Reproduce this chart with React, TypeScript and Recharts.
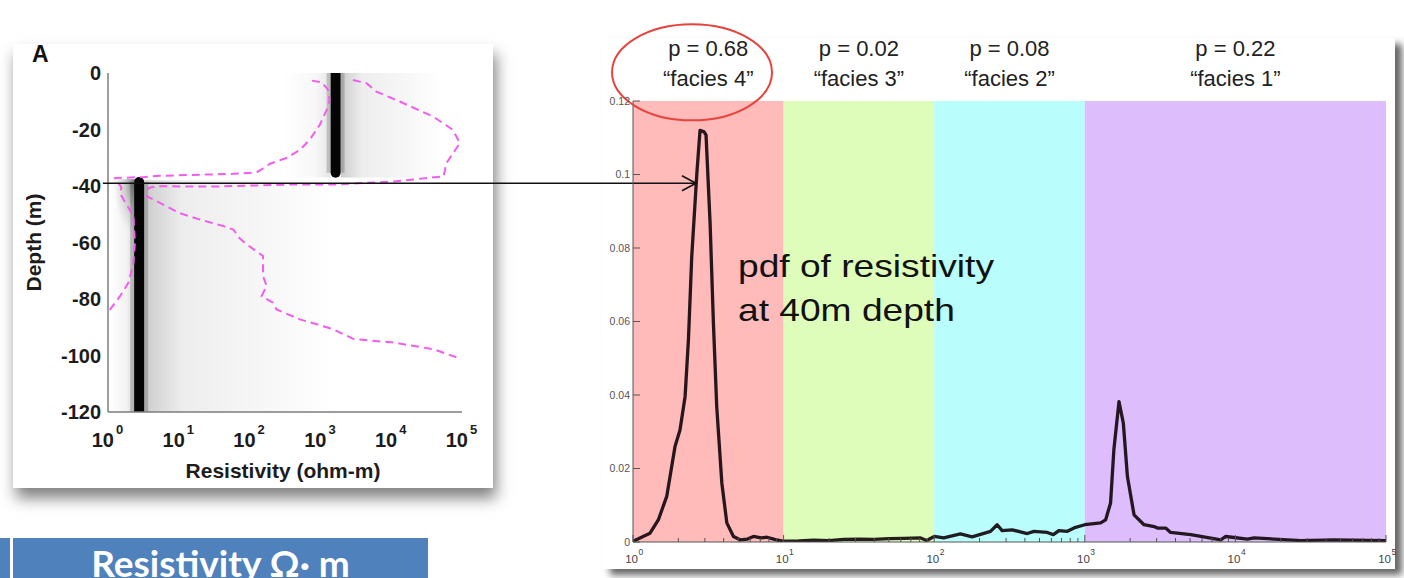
import React from "react";
import {
  ComposedChart,
  Line,
  XAxis,
  YAxis,
  ReferenceArea,
  ReferenceLine,
  ReferenceDot,
} from "recharts";

const FONT = "'Liberation Sans', Arial, Helvetica, sans-serif";

// ---------------- Panel A (depth profile), x = log10(resistivity), y = depth (m) ----------------
const depthTicks = [0, -20, -40, -60, -80, -100, -120];
const decadeTicks = [0, 1, 2, 3, 4, 5];

// lower (P10) envelope, dashed magenta
const lowerEnvelope = [
  { x: 2.88, y: -2.7 }, { x: 3.02, y: -3.3 }, { x: 3.11, y: -6 }, { x: 3.13, y: -9.5 },
  { x: 3.09, y: -13 }, { x: 2.99, y: -18.4 }, { x: 2.85, y: -23.6 }, { x: 2.71, y: -27.2 },
  { x: 2.52, y: -30.1 }, { x: 2.29, y: -32.1 }, { x: 2.1, y: -35.2 }, { x: 1.77, y: -35.7 },
  { x: 0.73, y: -36.4 }, { x: 0.52, y: -36.8 }, { x: 0.1, y: -37.2 }, { x: 0.19, y: -40.5 },
  { x: 0.17, y: -42.5 }, { x: 0.22, y: -44.8 }, { x: 0.36, y: -50.7 }, { x: 0.38, y: -60.1 },
  { x: 0.36, y: -67.2 }, { x: 0.29, y: -74.2 }, { x: 0.17, y: -79 }, { x: 0.03, y: -83.7 },
  { x: 0.0, y: -84.5 },
];

// upper (P90) envelope, dashed magenta
const upperEnvelope = [
  { x: 3.46, y: -2.5 }, { x: 3.65, y: -3.6 }, { x: 3.79, y: -6.6 }, { x: 4.12, y: -10.1 },
  { x: 4.59, y: -15.4 }, { x: 4.87, y: -20.1 }, { x: 4.97, y: -24.8 }, { x: 4.78, y: -31.9 },
  { x: 4.74, y: -36.6 }, { x: 4.03, y: -38.4 }, { x: 3.18, y: -39.5 }, { x: 2.57, y: -39.5 },
  { x: 1.5, y: -40.2 }, { x: 0.68, y: -40.1 }, { x: 0.57, y: -40.7 }, { x: 0.55, y: -43.7 },
  { x: 0.69, y: -45.4 }, { x: 1.0, y: -49.5 }, { x: 1.3, y: -51.9 }, { x: 1.63, y: -54.2 },
  { x: 1.77, y: -55.4 }, { x: 1.86, y: -58.5 }, { x: 1.95, y: -60.5 }, { x: 2.19, y: -64.8 },
  { x: 2.19, y: -71.9 }, { x: 2.24, y: -75.4 }, { x: 2.17, y: -79 }, { x: 2.33, y: -81.3 },
  { x: 2.38, y: -83.7 }, { x: 2.71, y: -87.2 }, { x: 3.18, y: -90.7 }, { x: 3.47, y: -94.2 },
  { x: 4.03, y: -95.4 }, { x: 4.6, y: -97.8 }, { x: 4.93, y: -100.7 },
];

// most probable resistivity (dark density ridge) in each layer
const ridgeUpper = [{ x: 3.215, y: 0 }, { x: 3.215, y: -35.3 }];
const ridgeLower = [{ x: 0.44, y: -38.6 }, { x: 0.44, y: -120 }];

// grey probability haze around the ridges
const hazeZones = [
  { x1: 3.29, x2: 4.75, y1: -37, y2: 0, g: "hazeR" },
  { x1: 2.45, x2: 3.14, y1: -37, y2: 0, g: "hazeLsoft" },
  { x1: 0.51, x2: 3.2, y1: -120, y2: -38, g: "hazeR" },
  { x1: 0.02, x2: 0.37, y1: -120, y2: -38, g: "hazeL" },
  { x1: 0.08, x2: 0.38, y1: -56, y2: -37.5, g: "hazeBlob" },
];

// ---------------- Right panel: pdf of resistivity at 40 m depth ----------------
const pdfTicks = [0, 0.02, 0.04, 0.06, 0.08, 0.1, 0.12];
const minorMultipliers = [2, 3, 4, 5, 6, 7, 8, 9];
const logTicks: number[] = [];
decadeTicks.forEach((d) => {
  logTicks.push(d);
  if (d < 5) minorMultipliers.forEach((m) => logTicks.push(d + Math.log10(m)));
});

const pdfCurve = [
  { x: 0, p: 0.0002 }, { x: 0.113, p: 0.0024 }, { x: 0.168, p: 0.006 }, { x: 0.224, p: 0.0124 },
  { x: 0.279, p: 0.026 }, { x: 0.312, p: 0.0305 }, { x: 0.346, p: 0.0396 }, { x: 0.368, p: 0.055 },
  { x: 0.39, p: 0.0776 }, { x: 0.424, p: 0.1003 }, { x: 0.445, p: 0.112 }, { x: 0.472, p: 0.1116 },
  { x: 0.485, p: 0.1107 }, { x: 0.512, p: 0.0867 }, { x: 0.534, p: 0.0595 }, { x: 0.556, p: 0.0368 },
  { x: 0.59, p: 0.016 }, { x: 0.623, p: 0.0052 }, { x: 0.667, p: 0.0015 }, { x: 0.711, p: 0.0006 },
  { x: 0.76, p: 0.0008 }, { x: 0.8, p: 0.0015 }, { x: 0.85, p: 0.0011 }, { x: 0.889, p: 0.0013 },
  { x: 0.94, p: 0.0007 }, { x: 1.0, p: 0.0002 },
  { x: 1.1, p: 0.0003 }, { x: 1.2, p: 0.0005 }, { x: 1.3, p: 0.0004 }, { x: 1.4, p: 0.0007 },
  { x: 1.5, p: 0.0008 }, { x: 1.6, p: 0.0007 }, { x: 1.7, p: 0.0009 }, { x: 1.8, p: 0.001 },
  { x: 1.91, p: 0.0011 }, { x: 1.95, p: 0.0004 }, { x: 2.0, p: 0.0015 },
  { x: 2.063, p: 0.0011 }, { x: 2.174, p: 0.0022 }, { x: 2.252, p: 0.0014 }, { x: 2.374, p: 0.0029 },
  { x: 2.418, p: 0.0047 }, { x: 2.451, p: 0.0031 }, { x: 2.518, p: 0.0033 }, { x: 2.618, p: 0.0023 },
  { x: 2.662, p: 0.0029 }, { x: 2.751, p: 0.0026 }, { x: 2.791, p: 0.002 }, { x: 2.828, p: 0.0031 },
  { x: 2.884, p: 0.0029 }, { x: 2.939, p: 0.004 }, { x: 3.0, p: 0.0047 },
  { x: 3.105, p: 0.0052 }, { x: 3.138, p: 0.006 }, { x: 3.171, p: 0.0106 }, { x: 3.193, p: 0.0251 },
  { x: 3.227, p: 0.0382 }, { x: 3.256, p: 0.0323 }, { x: 3.283, p: 0.0178 }, { x: 3.327, p: 0.0074 },
  { x: 3.393, p: 0.0047 }, { x: 3.46, p: 0.0042 }, { x: 3.482, p: 0.0038 }, { x: 3.537, p: 0.0038 },
  { x: 3.57, p: 0.0026 }, { x: 3.703, p: 0.002 }, { x: 3.77, p: 0.0015 }, { x: 3.903, p: 0.0006 },
  { x: 3.936, p: 0.0015 }, { x: 4.08, p: 0.0008 }, { x: 4.124, p: 0.0011 }, { x: 4.435, p: 0.0004 },
  { x: 4.657, p: 0.0006 }, { x: 5.0, p: 0.0004 },
];

const faciesFrom = [0, 1, 2, 3];
const faciesTo = [1, 2, 3, 5];
const faciesProb = ["0.68", "0.02", "0.08", "0.22"];
const faciesNames = ["facies 4", "facies 3", "facies 2", "facies 1"];
const faciesFills = ["#ffbaba", "#defdbb", "#bafdfd", "#ddbdfc"];

// annotations (in the right panel's data coordinates)
const arrowStart = { x: -3.52, y: 0.0976 };
const arrowEnd = { x: 0.418, y: 0.0976 };
const circleCenter = { x: 0.392, y: 0.1278 };
const noteAnchor = { x: 0.697, y: 0.0721 };
const noteLines = ["pdf of resistivity", "at 40m depth"];

// ---------------- tick renderers ----------------
const PanelAXTick = (props: any) => {
  const { x, y, payload } = props;
  return (
    <g>
      <text x={x + 6} y={y + 34.5} textAnchor="end" fontSize={20} fontWeight={700} fill="#1c1c1c" fontFamily={FONT}>
        10
      </text>
      <text x={x + 8} y={y + 21.5} textAnchor="start" fontSize={13} fontWeight={700} fill="#1c1c1c" fontFamily={FONT}>
        {payload.value}
      </text>
    </g>
  );
};

const PanelAYTick = (props: any) => {
  const { x, y, payload } = props;
  return (
    <text x={x} y={y + 7} textAnchor="end" fontSize={20} fontWeight={700} fill="#1c1c1c" fontFamily={FONT}>
      {payload.value}
    </text>
  );
};

const isMajor = (v: number) => Math.abs(v - Math.round(v)) < 1e-6;

const PdfBottomTick = (props: any) => {
  const { x, y, payload } = props;
  const v = payload.value as number;
  const major = isMajor(v);
  return (
    <g>
      <line x1={x} x2={x} y1={y} y2={y - (major ? 7 : 4)} stroke="#555" strokeWidth={1} />
      {major && (
        <g>
          <text x={x + 5} y={y + 21} textAnchor="end" fontSize={11.5} fill="#444" fontFamily={FONT}>
            10
          </text>
          <text x={x + 5.5} y={y + 13} textAnchor="start" fontSize={8.5} fill="#444" fontFamily={FONT}>
            {Math.round(v)}
          </text>
        </g>
      )}
    </g>
  );
};

const PdfTopTick = (props: any) => {
  const { x, y, payload } = props;
  const major = isMajor(payload.value);
  return <line x1={x} x2={x} y1={y} y2={y + (major ? 7 : 4)} stroke="#555" strokeWidth={1} />;
};

const PdfLeftTick = (props: any) => {
  const { x, y, payload } = props;
  return (
    <g>
      <line x1={x + 3} x2={x + 10} y1={y} y2={y} stroke="#555" strokeWidth={1} />
      <text x={x} y={y + 3.5} textAnchor="end" fontSize={10.5} fill="#555" fontFamily={FONT}>
        {String(payload.value)}
      </text>
    </g>
  );
};

const PdfRightTick = (props: any) => {
  const { x, y } = props;
  return <line x1={x - 7} x2={x} y1={y} y2={y} stroke="#555" strokeWidth={1} />;
};

// ---------------- charts ----------------
function DepthPanel() {
  const boxLine = { stroke: "#7d7d7d", strokeWidth: 1.5 };
  return (
    <ComposedChart width={500} height={500} margin={{ top: 73, right: 38, bottom: 28, left: 48 }}>
      <defs>
        <linearGradient id="hazeR" x1="0" y1="0" x2="1" y2="0">
          <stop offset="0" stopColor="#000" stopOpacity={0.2} />
          <stop offset="0.2" stopColor="#000" stopOpacity={0.07} />
          <stop offset="1" stopColor="#000" stopOpacity={0} />
        </linearGradient>
        <linearGradient id="hazeL" x1="0" y1="0" x2="1" y2="0">
          <stop offset="0" stopColor="#000" stopOpacity={0} />
          <stop offset="0.7" stopColor="#000" stopOpacity={0.05} />
          <stop offset="1" stopColor="#000" stopOpacity={0.16} />
        </linearGradient>
        <linearGradient id="hazeLsoft" x1="0" y1="0" x2="1" y2="0">
          <stop offset="0" stopColor="#000" stopOpacity={0} />
          <stop offset="0.7" stopColor="#000" stopOpacity={0.03} />
          <stop offset="1" stopColor="#000" stopOpacity={0.1} />
        </linearGradient>
        <radialGradient id="hazeBlob" cx="1" cy="0.05" r="1">
          <stop offset="0" stopColor="#000" stopOpacity={0.45} />
          <stop offset="0.5" stopColor="#000" stopOpacity={0.15} />
          <stop offset="1" stopColor="#000" stopOpacity={0} />
        </radialGradient>
      </defs>
      <XAxis
        dataKey="x"
        type="number"
        domain={[0, 5]}
        ticks={decadeTicks}
        interval={0}
        allowDataOverflow
        height={60}
        tickSize={0}
        tickMargin={0}
        tickLine={false}
        axisLine={boxLine}
        tick={<PanelAXTick />}
        label={(p: any) => {
          const vb = p.viewBox;
          return (
            <text x={vb.x + vb.width / 2 - 2} y={vb.y + 66} textAnchor="middle" fontSize={21} fontWeight={700} fill="#1c1c1c" fontFamily={FONT}>
              Resistivity (ohm-m)
            </text>
          );
        }}
      />
      <XAxis xAxisId="top" orientation="top" type="number" domain={[0, 5]} height={0} tick={false} tickLine={false} axisLine={boxLine} />
      <YAxis
        type="number"
        domain={[-120, 0]}
        ticks={depthTicks}
        interval={0}
        allowDataOverflow
        width={60}
        tickSize={0}
        tickMargin={7}
        tickLine={false}
        axisLine={boxLine}
        tick={<PanelAYTick />}
        label={(p: any) => {
          const vb = p.viewBox;
          const lx = vb.x + vb.width - 67;
          const ly = vb.y + vb.height / 2;
          return (
            <text x={lx} y={ly} transform={`rotate(-90, ${lx}, ${ly})`} textAnchor="middle" fontSize={21} fontWeight={700} fill="#1c1c1c" fontFamily={FONT}>
              Depth (m)
            </text>
          );
        }}
      />
      <YAxis yAxisId="right" orientation="right" type="number" domain={[-120, 0]} width={0} tick={false} tickLine={false} axisLine={boxLine} />
      {hazeZones.map((h, i) => (
        <ReferenceArea key={`h${i}`} x1={h.x1} x2={h.x2} y1={h.y1} y2={h.y2} fill={`url(#${h.g})`} fillOpacity={1} stroke="none" />
      ))}
      <Line data={ridgeUpper} dataKey="y" stroke="#000" strokeOpacity={0.18} strokeWidth={18} strokeLinecap="butt" dot={false} activeDot={false} isAnimationActive={false} />
      <Line data={ridgeLower} dataKey="y" stroke="#000" strokeOpacity={0.18} strokeWidth={18} strokeLinecap="butt" dot={false} activeDot={false} isAnimationActive={false} />
      <Line data={ridgeUpper} dataKey="y" stroke="#050505" strokeWidth={10} strokeLinecap="round" dot={false} activeDot={false} isAnimationActive={false} />
      <Line data={ridgeLower} dataKey="y" stroke="#050505" strokeWidth={10} strokeLinecap="round" dot={false} activeDot={false} isAnimationActive={false} />
      <Line data={lowerEnvelope} dataKey="y" stroke="#f25cf0" strokeWidth={2} strokeDasharray="8 5" dot={false} activeDot={false} isAnimationActive={false} />
      <Line data={upperEnvelope} dataKey="y" stroke="#f25cf0" strokeWidth={2} strokeDasharray="8 5" dot={false} activeDot={false} isAnimationActive={false} />
    </ComposedChart>
  );
}

function PdfPanel() {
  const box = { stroke: "#555", strokeWidth: 1 };
  return (
    <ComposedChart width={1404} height={578} data={pdfCurve} margin={{ top: 101, right: 18, bottom: 6, left: 593 }}>
      <XAxis
        dataKey="x"
        type="number"
        domain={[0, 5]}
        ticks={logTicks}
        interval={0}
        allowDataOverflow
        height={30}
        tickSize={0}
        tickMargin={0}
        tickLine={false}
        axisLine={box}
        tick={<PdfBottomTick />}
      />
      <XAxis xAxisId="top" orientation="top" type="number" domain={[0, 5]} ticks={logTicks} interval={0} height={0} tickSize={0} tickMargin={0} tickLine={false} axisLine={box} tick={<PdfTopTick />} />
      <YAxis type="number" domain={[0, 0.12]} ticks={pdfTicks} interval={0} allowDataOverflow width={40} tickSize={0} tickMargin={3} tickLine={false} axisLine={box} tick={<PdfLeftTick />} />
      <YAxis yAxisId="right" orientation="right" type="number" domain={[0, 0.12]} ticks={pdfTicks} interval={0} width={0} tickSize={0} tickMargin={0} tickLine={false} axisLine={box} tick={<PdfRightTick />} />
      {faciesFrom.map((f, i) => (
        <ReferenceArea
          key={`f${i}`}
          x1={f}
          x2={faciesTo[i]}
          y1={0}
          y2={0.12}
          fill={faciesFills[i]}
          fillOpacity={1}
          stroke="none"
          label={(p: any) => {
            const vb = p.viewBox;
            const cx = vb.x + vb.width / 2;
            return (
              <g>
                <text x={cx} y={vb.y - 45} textAnchor="middle" fontSize={22} fill="#222" fontFamily={FONT}>
                  {`p = ${faciesProb[i]}`}
                </text>
                <text x={cx} y={vb.y - 15} textAnchor="middle" fontSize={22} fill="#222" fontFamily={FONT}>
                  {`\u201C${faciesNames[i]}\u201D`}
                </text>
              </g>
            );
          }}
        />
      ))}
      <Line dataKey="p" type="linear" stroke="#10040a" strokeOpacity={0.9} strokeWidth={3.3} strokeLinejoin="round" dot={false} activeDot={false} isAnimationActive={false} />
      <ReferenceDot
        x={noteAnchor.x}
        y={noteAnchor.y}
        r={0}
        ifOverflow="visible"
        shape={(p: any) => (
          <g transform={`translate(${p.cx}, ${p.cy}) scale(1.18, 1)`}>
            <text x={0} y={0} fontSize={31.5} fill="#111" fontFamily={FONT}>
              {noteLines[0]}
            </text>
            <text x={0} y={44} fontSize={31.5} fill="#111" fontFamily={FONT}>
              {noteLines[1]}
            </text>
          </g>
        )}
      />
      <ReferenceDot
        x={circleCenter.x}
        y={circleCenter.y}
        r={1}
        ifOverflow="visible"
        shape={(p: any) => <ellipse cx={p.cx} cy={p.cy} rx={80} ry={48} fill="none" stroke="#e8423c" strokeWidth={2} />}
      />
      <ReferenceLine
        segment={[arrowStart, arrowEnd]}
        ifOverflow="visible"
        shape={(p: any) => (
          <g>
            <line x1={p.x1} y1={p.y1} x2={p.x2} y2={p.y2} stroke="#111" strokeWidth={1.6} />
            <path d={`M${p.x2 - 14},${p.y2 - 7.5} L${p.x2},${p.y2} L${p.x2 - 14},${p.y2 + 7.5}`} fill="none" stroke="#111" strokeWidth={1.6} />
          </g>
        )}
      />
    </ComposedChart>
  );
}

export default function App() {
  return (
    <div style={{ position: "fixed", left: 0, top: 0, width: 1404, height: 578, background: "#ffffff", overflow: "hidden", fontFamily: FONT }}>
      <div style={{ position: "absolute", left: 13, top: 44, width: 480, height: 444, background: "#fff", boxShadow: "3px 10px 14px rgba(0,0,0,0.5)" }} />
      <div style={{ position: "absolute", left: 603, top: 38, width: 792, height: 531, background: "#fff", boxShadow: "7px 6px 7px rgba(0,0,0,0.6)" }} />
      <div style={{ position: "absolute", left: 32, top: 42.5, fontSize: 23, fontWeight: 700, lineHeight: "23px", color: "#111" }}>A</div>
      <div style={{ position: "absolute", left: 0, top: 0, zIndex: 1 }}>
        <DepthPanel />
      </div>
      <div style={{ position: "absolute", left: 0, top: 0, zIndex: 2 }}>
        <PdfPanel />
      </div>
      <div style={{ position: "absolute", left: 0, top: 538, width: 10, height: 40, background: "#4f81bd", zIndex: 3 }} />
      <div
        style={{
          position: "absolute",
          left: 13,
          top: 538,
          width: 415,
          height: 40,
          background: "#4f81bd",
          zIndex: 3,
          overflow: "hidden",
        }}
      >
        <div style={{ position: "absolute", left: 0, top: 6, width: 415, textAlign: "center", color: "#fff", fontFamily: "Lato, 'Open Sans', sans-serif", fontWeight: 700, fontSize: 37, lineHeight: "37px" }}>
          Resistivity Ω· m
        </div>
      </div>
    </div>
  );
}
